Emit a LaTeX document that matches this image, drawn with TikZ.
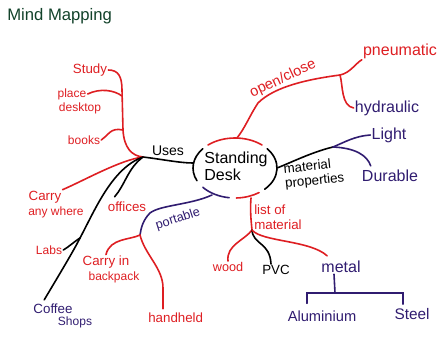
\documentclass[tikz,border=0pt]{standalone}
\usepackage{fontspec}
\setmainfont{Liberation Sans}
\definecolor{penred}{RGB}{222,30,34}
\definecolor{penblue}{RGB}{48,28,112}
\definecolor{pengreen}{RGB}{18,66,42}
\tikzset{
  pen/.style={line width=1.2pt, line cap=round},
  txt/.style={inner sep=0.75pt, align=center, font=\fontsize{10}{11}\selectfont},
  bigtxt/.style={inner sep=0.75pt, align=center, font=\fontsize{12}{13}\selectfont},
  smalltxt/.style={inner sep=0.75pt, align=center, font=\fontsize{9}{10}\selectfont},
}
\begin{document}
\begin{tikzpicture}[x=0.75pt,y=0.75pt,yscale=-1,xscale=1]
\useasboundingbox (0,0) rectangle (439,336);

% Text Node
\node[txt, pengreen, anchor=west, font=\fontsize{12.5}{14}\selectfont] (title) at (6,16) {Mind Mapping};

%Shape: Ring [id:desk]
\coordinate (c) at (235,168);
\draw[pen, penred] (c) ++(-50:42 and 30) arc[start angle=-50, end angle=-130, x radius=42, y radius=30];
\draw[pen] (c) ++(-40:42 and 30) arc[start angle=-40, end angle=45, x radius=42, y radius=30];
\draw[pen] (c) ++(-140:42 and 30) arc[start angle=-140, end angle=-205, x radius=42, y radius=30];
\draw[pen, penblue] (c) ++(-220:42 and 30) arc[start angle=-220, end angle=-262, x radius=42, y radius=30];
\draw[pen, penred] (c) ++(-272:42 and 30) arc[start angle=-272, end angle=-305, x radius=42, y radius=30];
\coordinate (dtop) at (237,138);
\coordinate (dleft) at (193,163);
\coordinate (dright) at (277,168);
\coordinate (dport) at (212,195);
\coordinate (dlist) at (251,198);

% Text Node
\node[bigtxt, align=left] (desk) at (236,166) {Standing\\Desk};

%% uses
% Text Node
\node[txt, font=\fontsize{10.5}{12}\selectfont] (uses) at (168,151) {Uses};
\node[txt, penred] (study) at (90,70) {Study};
\node[smalltxt, penred] (place) at (72,94) {place};
\node[smalltxt, penred] (desktop) at (80,108) {desktop};
\node[smalltxt, penred] (books) at (84,140) {books};
\node[txt, penred] (carry) at (45,197) {Carry};
\node[smalltxt, penred] (anywhere) at (56,212) {any where};
\node[txt, penred] (offices) at (127,207) {offices};
\node[smalltxt, penred] (labs) at (49,250) {Labs};
\node[txt, penblue] (coffee) at (53,309) {Coffee};
\node[smalltxt, penblue] (shops) at (75,322) {Shops};
\coordinate (usesj) at (143,157);
\coordinate (placej) at (122,96);
\coordinate (booksj) at (123,130);
\coordinate (labsj) at (80,238);
%Curve Lines
\draw[pen] (dleft) .. controls (180,163) and (160,159) .. (usesj);
\draw[pen, penred] (study.east) .. controls (118,70) and (122,76) .. (122,90) -- (booksj) .. controls (124,148) and (132,156) .. (usesj);
\draw[pen, penred] (place.east) .. controls (100,88) and (114,90) .. (placej);
\draw[pen, penred] (books.east) .. controls (108,136) and (110,127) .. (booksj);
\draw[pen, penred] (carry.north east) .. controls (85,180) and (120,160) .. (usesj);
\draw[pen] ([shift={(8,-4)}]offices.north west) .. controls (125,185) and (128,168) .. (usesj);
\draw[pen] ([shift={(12,-3)}]coffee.north west) .. controls (62,270) and (74,250) .. (labsj) .. controls (95,210) and (112,168) .. (usesj);
\draw[pen] (labs.east) .. controls (70,246) and (75,241) .. (labsj);

%% open/close
% Text Node
\node[txt, penred, rotate=25, font=\fontsize{11}{12}\selectfont] (open) at (283,79) {open/close};
\node[bigtxt, penred] (pneu) at (400,51) {pneumatic};
\node[bigtxt, penblue] (hydr) at (387,108) {hydraulic};
\coordinate (openj) at (340,75);
%Curve Lines
\draw[pen, penred] (dtop) .. controls (245,128) and (250,115) .. (258,103) .. controls (275,86) and (310,79) .. (openj);
\draw[pen, penred] (openj) .. controls (350,73) and (355,64) .. (pneu.south west);
\draw[pen, penred] (openj) .. controls (343,85) and (341,106) .. (hydr.west);

%% material properties
% Text Node
\node[txt, rotate=6, align=left] (matprop) at (314,174) {material\\properties};
\node[bigtxt, penblue] (light) at (389,135) {Light};
\node[bigtxt, penblue] (durable) at (390,176) {Durable};
\coordinate (matj) at (333,147);
%Curve Lines
\draw[pen] (dright) .. controls (290,163) and (312,152) .. (matj);
\draw[pen, penblue] (matj) .. controls (345,142) and (355,136) .. (light.west);
\draw[pen, penblue] (matj) .. controls (355,148) and (367,155) .. ([shift={(10,-3)}]durable.north west);

%% portable
% Text Node
\node[smalltxt, penblue, rotate=18, font=\fontsize{9.5}{10}\selectfont] (portable) at (178,219) {portable};
\node[txt, penred] (carryin) at (106,262) {Carry in};
\node[smalltxt, penred] (backpack) at (114,277) {backpack};
\node[txt, penred, anchor=west] (handheld) at (147,318) {handheld};
\coordinate (portj) at (140,235);
%Curve Lines
\draw[pen, penblue] (dport) .. controls (190,205) and (160,205) .. (150,213) .. controls (143,220) and (141,228) .. (portj);
\draw[pen, penred] (portj) .. controls (130,240) and (110,238) .. (carryin.north);
\draw[pen, penred] (portj) .. controls (145,255) and (163,268) .. (163,288) -- ([shift={(16,-3)}]handheld.north west);

%% list of material
% Text Node
\node[txt, penred, anchor=north west, align=left] (list) at (253,204) {list of\\material};
\node[smalltxt, penred, font=\fontsize{9.5}{10}\selectfont] (wood) at (228,267) {wood};
\node[txt] (pvc) at (276,270) {PVC};
\node[bigtxt, penblue] (metal) at (341,267) {metal};
\node[txt, penblue, font=\fontsize{11}{12}\selectfont] (alu) at (322,316) {Aluminium};
\node[txt, penblue, font=\fontsize{11.5}{12}\selectfont] (steel) at (412,314) {Steel};
\coordinate (listj) at (252,230);
\coordinate (metj) at (335,293);
%Curve Lines
\draw[pen, penred] (dlist) .. controls (250,210) and (251,220) .. (listj);
\draw[pen, penred] (listj) .. controls (245,240) and (226,245) .. (wood.north);
\draw[pen] (listj) .. controls (253,245) and (270,242) .. ([shift={(-5,0)}]pvc.north);
\draw[pen, penred] (listj) .. controls (262,242) and (310,240) .. ([shift={(7,-4)}]metal.north west);
\draw[pen, penblue] ([shift={(-7,0)}]metal.south) -- (metj);
\draw[pen, penblue] ([shift={(-15,-6)}]alu.north) |- (metj) -| ([shift={(-9,-3)}]steel.north);

\end{tikzpicture}
\end{document}
